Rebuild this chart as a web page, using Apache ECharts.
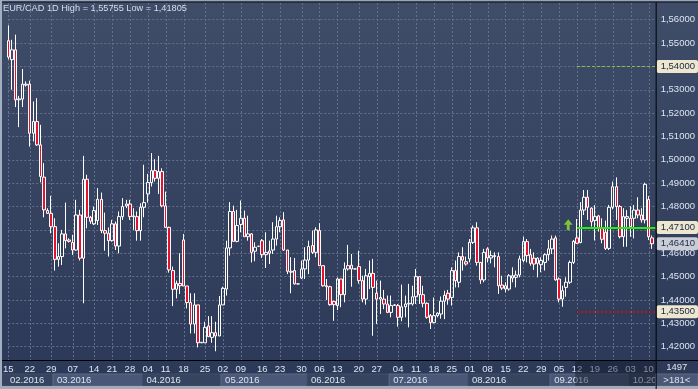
<!DOCTYPE html>
<html><head><meta charset="utf-8">
<script src="https://cdn.jsdelivr.net/npm/echarts@6/dist/echarts.min.js"></script>
<style>html,body{margin:0;padding:0;background:#2c3857;overflow:hidden}#c{width:698px;height:389px}</style>
</head><body><div id="c"></div>
<script>
const opens = [
1.5510,1.5429,1.5471,1.5257,1.5260,1.5324,1.5324,1.5114,1.5164,1.5064,
1.4926,1.4783,1.4771,1.4714,1.4574,1.4586,1.4683,1.4657,1.4646,1.4614,
1.4764,1.4579,1.4917,1.4754,1.4726,1.4740,1.4831,1.4697,1.4686,1.4654,
1.4726,1.4631,1.4757,1.4803,1.4811,1.4757,1.4757,1.4697,1.4797,1.4854,
1.4903,1.4954,1.4921,1.4950,1.4803,1.4711,1.4526,1.4446,1.4471,1.4657,
1.4460,1.4389,1.4297,1.4379,1.4217,1.4217,1.4289,1.4240,1.4260,1.4246,
1.4379,1.4447,1.4623,1.4779,1.4651,1.4723,1.4750,1.4671,1.4683,1.4609,
1.4630,1.4654,1.4594,1.4610,1.4614,1.4661,1.4714,1.4743,1.4614,1.4523,
1.4526,1.4469,1.4494,1.4533,1.4571,1.4633,1.4604,1.4697,1.4547,1.4461,
1.4457,1.4394,1.4376,1.4490,1.4423,1.4533,1.4549,1.4533,1.4543,1.4483,
1.4404,1.4500,1.4514,1.4429,1.4404,1.4404,1.4383,1.4347,1.4377,1.4376,
1.4326,1.4371,1.4383,1.4383,1.4414,1.4500,1.4423,1.4386,1.4333,1.4304,
1.4333,1.4340,1.4395,1.4429,1.4411,1.4526,1.4476,1.4586,1.4564,1.4576,
1.4647,1.4709,1.4561,1.4486,1.4619,1.4580,1.4590,1.4586,1.4464,1.4447,
1.4447,1.4494,1.4497,1.4507,1.4569,1.4650,1.4594,1.4579,1.4557,1.4551,
1.4561,1.4594,1.4619,1.4666,1.4490,1.4404,1.4454,1.4476,1.4561,1.4666,
1.4646,1.4785,1.4840,1.4793,1.4740,1.4760,1.4707,1.4690,1.4621,1.4797,
1.4885,1.4800,1.4671,1.4750,1.4750,1.4750,1.4785,1.4764,1.4743,1.4830,
1.4666];
const closes = [
1.5440,1.5471,1.5257,1.5261,1.5324,1.5320,1.5114,1.5164,1.5064,1.4929,
1.4786,1.4771,1.4714,1.4574,1.4586,1.4683,1.4654,1.4651,1.4614,1.4764,
1.4579,1.4917,1.4754,1.4737,1.4783,1.4831,1.4697,1.4686,1.4654,1.4726,
1.4631,1.4757,1.4800,1.4811,1.4757,1.4760,1.4697,1.4797,1.4817,1.4903,
1.4954,1.4921,1.4950,1.4803,1.4711,1.4529,1.4446,1.4471,1.4461,1.4460,
1.4389,1.4297,1.4379,1.4217,1.4219,1.4283,1.4243,1.4260,1.4246,1.4379,
1.4450,1.4623,1.4779,1.4651,1.4719,1.4750,1.4671,1.4683,1.4604,1.4626,
1.4630,1.4594,1.4604,1.4600,1.4661,1.4714,1.4740,1.4614,1.4523,1.4519,
1.4469,1.4469,1.4533,1.4571,1.4629,1.4604,1.4700,1.4547,1.4461,1.4457,
1.4380,1.4380,1.4490,1.4423,1.4533,1.4547,1.4533,1.4533,1.4483,1.4404,
1.4504,1.4514,1.4454,1.4404,1.4411,1.4383,1.4347,1.4376,1.4379,1.4326,
1.4371,1.4383,1.4386,1.4414,1.4500,1.4423,1.4386,1.4326,1.4304,1.4333,
1.4344,1.4395,1.4420,1.4404,1.4526,1.4483,1.4586,1.4571,1.4554,1.4647,
1.4709,1.4561,1.4486,1.4604,1.4580,1.4590,1.4586,1.4461,1.4451,1.4461,
1.4504,1.4504,1.4507,1.4576,1.4650,1.4590,1.4557,1.4554,1.4579,1.4569,
1.4594,1.4619,1.4661,1.4486,1.4404,1.4440,1.4476,1.4561,1.4651,1.4643,
1.4785,1.4840,1.4797,1.4735,1.4757,1.4707,1.4660,1.4621,1.4797,1.4885,
1.4800,1.4671,1.4757,1.4757,1.4714,1.4785,1.4764,1.4743,1.4895,1.4671,
1.4641];
const lows = [
1.5430,1.5300,1.5226,1.5140,1.5226,1.5314,1.5057,1.5079,1.5060,1.4904,
1.4754,1.4769,1.4686,1.4526,1.4543,1.4550,1.4621,1.4646,1.4593,1.4611,
1.4569,1.4386,1.4707,1.4726,1.4721,1.4721,1.4686,1.4611,1.4586,1.4650,
1.4614,1.4600,1.4743,1.4793,1.4743,1.4700,1.4654,1.4654,1.4754,1.4817,
1.4886,1.4907,1.4854,1.4797,1.4711,1.4517,1.4374,1.4407,1.4426,1.4460,
1.4364,1.4257,1.4257,1.4197,1.4215,1.4217,1.4243,1.4217,1.41805,1.4246,
1.4379,1.4419,1.4590,1.4651,1.4647,1.4690,1.4671,1.4654,1.4561,1.4566,
1.4628,1.4580,1.4537,1.4554,1.4597,1.4633,1.4690,1.4611,1.4511,1.4429,
1.4466,1.4468,1.4490,1.4490,1.4511,1.4597,1.4583,1.4547,1.4457,1.4400,
1.4376,1.4311,1.4357,1.4369,1.4390,1.4526,1.4457,1.4532,1.4470,1.4390,
1.4380,1.4447,1.4247,1.4297,1.4340,1.4361,1.4344,1.4326,1.4375,1.4286,
1.4309,1.4326,1.4283,1.4376,1.4383,1.4383,1.4369,1.4320,1.4276,1.4300,
1.4326,1.4320,1.4318,1.4380,1.4376,1.4454,1.4454,1.4526,1.4547,1.4561,
1.4640,1.4547,1.4469,1.4476,1.4561,1.4557,1.4540,1.4426,1.4443,1.4433,
1.4440,1.4476,1.4454,1.4497,1.4561,1.4561,1.4547,1.4529,1.4497,1.4519,
1.4526,1.4569,1.4597,1.4483,1.4390,1.4371,1.4414,1.4469,1.4554,1.4640,
1.4643,1.4764,1.4743,1.4714,1.4655,1.4693,1.4643,1.4614,1.4614,1.4788,
1.4743,1.4664,1.4628,1.4628,1.4671,1.4664,1.4750,1.4731,1.4728,1.4657,
1.4619];
const highs = [
1.55755,1.5514,1.5536,1.5274,1.5389,1.5336,1.5339,1.5250,1.5264,1.5150,
1.4986,1.4793,1.4846,1.4750,1.4643,1.4700,1.4817,1.4664,1.4679,1.4829,
1.4786,1.5017,1.4936,1.4760,1.4800,1.4879,1.4860,1.4774,1.4711,1.4743,
1.4736,1.4779,1.4836,1.4829,1.4829,1.4793,1.4779,1.4814,1.4979,1.4940,
1.5029,1.5003,1.5017,1.4964,1.4864,1.4714,1.4543,1.4483,1.4600,1.4683,
1.4460,1.4429,1.4429,1.4379,1.4220,1.4307,1.4331,1.4331,1.4307,1.4417,
1.4457,1.4654,1.4819,1.4804,1.4786,1.4826,1.4783,1.4761,1.4686,1.4647,
1.4632,1.4661,1.4690,1.4654,1.4733,1.4761,1.4754,1.4776,1.4614,1.4583,
1.4580,1.4470,1.4569,1.4626,1.4654,1.4697,1.4711,1.4729,1.4547,1.4490,
1.4461,1.4397,1.4497,1.4490,1.4561,1.4636,1.4597,1.4534,1.4611,1.4504,
1.4533,1.4569,1.4576,1.4483,1.4483,1.4443,1.4419,1.4419,1.4382,1.4383,
1.4466,1.4419,1.4469,1.4461,1.4533,1.4500,1.4461,1.4390,1.4340,1.4411,
1.4347,1.4415,1.4440,1.4443,1.4540,1.4569,1.4604,1.4626,1.4586,1.4661,
1.4719,1.4733,1.4561,1.4619,1.4626,1.4611,1.4604,1.4604,1.4504,1.4476,
1.4511,1.4540,1.4526,1.4590,1.4671,1.4661,1.4619,1.4604,1.4583,1.4583,
1.4600,1.4657,1.4676,1.4676,1.4497,1.4461,1.4497,1.4569,1.4657,1.4747,
1.4819,1.4871,1.4871,1.4797,1.4806,1.4764,1.4750,1.4740,1.4807,1.4907,
1.4925,1.4807,1.4793,1.4785,1.4802,1.4807,1.4840,1.4793,1.4902,1.4845,
1.4676];

// x categories: one per bar, plus one empty slot reaching the right edge
const barCount = opens.length;            // 181
const categories = Array.from({length: barCount + 1}, (_, i) => String(i));
// weekly day labels [bar index, text]
const dayTicks = [[0,'15'],[6,'22'],[12,'29'],[18,'07'],[24,'14'],[29,'21'],[34,'28'],[39,'04'],[44,'11'],[49,'18'],
 [55,'25'],[60,'02'],[65,'09'],[71,'16'],[76,'23'],[82,'30'],[87,'06'],[92,'13'],[98,'20'],[103,'27'],
 [109,'04'],[114,'11'],[119,'18'],[124,'25'],[129,'01'],[134,'08'],[139,'15'],[144,'22'],[149,'29'],[154,'05'],
 [159,'12'],[164,'19'],[169,'26'],[174,'03'],[179,'10']];
// month sections [first bar index, text]
const monthStarts = [[0,'02.2016'],[13,'03.2016'],[38,'04.2016'],[60,'05.2016'],[84,'06.2016'],[107,'07.2016'],[129,'08.2016'],[152,'09.2016'],[174,'10.2016']];
const priceTicks = [1.42,1.43,1.44,1.45,1.46,1.47,1.48,1.49,1.50,1.51,1.52,1.53,1.54,1.55,1.56];
const priceMin = 1.41432, priceMax = 1.56715;
const levelUpper = 1.54, levelMid = 1.471, levelLower = 1.435, lastPrice = 1.4641;
const levelStart = 159, arrowBar = 156, arrowPrice = 1.4722;
const titleText = 'EUR/CAD 1D High = 1,55755 Low = 1,41805';
const infoTop = '1497', infoBottom = '>181<';

const FONT = "'Liberation Sans',Arial,sans-serif";
const FS = 9.5;
const LBL = '#dde5f2';
const GRID = '#62708c';
const fmt = v => Number(v).toFixed(5).replace('.', ',');
const tickMap = new Map(dayTicks);
const tickIdx = dayTicks.map(d => d[0]);
const candles = opens.map((o, i) => [o, closes[i], lows[i], highs[i]]);

const tagLabel = (bg, v) => ({show:true, position:'end', distance:1, formatter: () => fmt(v),
  backgroundColor:bg, color:'#1a2742', fontFamily:FONT, fontSize:FS, padding:[2,3,1,4], borderRadius:2});

const chart = echarts.init(document.getElementById('c'), null, {renderer:'canvas'});
const option = {
  animation:false,
  backgroundColor:{type:'linear',x:0,y:0,x2:0,y2:1,colorStops:[{offset:0,color:'#3f4d69'},{offset:1,color:'#2c3857'}]},
  textStyle:{fontFamily:FONT},
  title:{text:titleText, left:3, top:4, padding:0, textStyle:{color:'#d7dfec', fontSize:9.2, fontWeight:'normal', fontFamily:FONT}},
  grid:{left:3, right:42, top:3, bottom:29, containLabel:false},
  xAxis:{type:'category', data:categories, boundaryGap:false,
    axisLine:{show:false}, axisTick:{show:false, customValues:tickIdx},
    axisLabel:{customValues:tickIdx, formatter:(v)=>tickMap.get(Number(v))||'', color:LBL, fontSize:FS, margin:4, fontFamily:FONT},
    splitLine:{show:false}},
  yAxis:{type:'value', position:'right', min:priceMin, max:priceMax, scale:true,
    axisLine:{show:false}, axisTick:{show:false, customValues:priceTicks},
    axisLabel:{customValues:priceTicks, formatter:fmt, color:LBL, fontSize:FS, margin:5, fontFamily:FONT},
    splitLine:{show:true, lineStyle:{color:GRID, type:[2,2], width:1}}},
  series:[{
    type:'candlestick', data:candles, barWidth:3, clip:true, z:3,
    itemStyle:{color:'rgba(0,0,0,0)', color0:'#e3132f', borderColor:'#ffffff', borderColor0:'#ffffff', borderWidth:1},
    markLine:{silent:true, symbol:['none','none'], animation:false,
      data:[
        [{coord:[levelStart, levelUpper], lineStyle:{color:'#86c03c', type:[3,2], width:1}, label:tagLabel('#ede7cf', levelUpper)}, {coord:[barCount, levelUpper]}],
        [{coord:[levelStart, levelLower], lineStyle:{color:'#b0181e', type:[2,2], width:2}, label:tagLabel('#ede7cf', levelLower)}, {coord:[barCount, levelLower]}],
        [{coord:[barCount - 1, lastPrice], lineStyle:{color:'rgba(0,0,0,0)', width:0}, label:tagLabel('#c9cdd6', lastPrice)}, {coord:[barCount, lastPrice]}],
        [{coord:[levelStart, levelMid], lineStyle:{color:'#22ee11', type:'solid', width:2}, label:tagLabel('#ede7cf', levelMid)}, {coord:[barCount, levelMid]}]
      ]},
    markPoint:{silent:true, animation:false, data:[{coord:[arrowBar, arrowPrice],
      symbol:'path://M5,0 L10,6 L6.6,6 L6.6,12 L3.4,12 L3.4,6 L0,6 Z', symbolSize:[9,11], symbolOffset:[2,0],
      itemStyle:{color:'#7cc23c'}, label:{show:false}}]}
  }]
};
chart.setOption(option);

// decorations, placed through the chart's own scales
const px0 = chart.convertToPixel({xAxisIndex:0}, 0);
const pxStep = chart.convertToPixel({xAxisIndex:0}, 1) - px0;
const xb = b => px0 + b * pxStep;
const plotRight = chart.convertToPixel({xAxisIndex:0}, barCount);
const plotBottom = chart.convertToPixel({yAxisIndex:0}, priceMin);
const plotTop = chart.convertToPixel({yAxisIndex:0}, priceMax);
const W = 698, H = 389;
const row1 = plotBottom + 14, row2 = H - 3;
const g = [];
// vertical weekly grid lines at the labelled days
tickIdx.forEach(i => {
  const x = Math.round(chart.convertToPixel({xAxisIndex:0}, i)) + 0.5;
  g.push({type:'line', silent:true, shape:{x1:x, y1:plotTop, x2:x, y2:plotBottom}, style:{stroke:GRID, lineWidth:1, lineDash:[2,2]}, z:0});
});
monthStarts.forEach((m, k) => {
  const xs = k === 0 ? 0 : xb(m[0] - 0.5);
  const xe = k < monthStarts.length - 1 ? xb(monthStarts[k+1][0] - 0.5) : plotRight;
  const light = k % 2 === 1;
  g.push({type:'rect', shape:{x:xs, y:row1, width:xe-xs, height:row2-row1},
    style:{fill: light ? '#4a5776' : '#37445f', stroke: light ? '#5e6b88' : '#414e6a', lineWidth:1}, z:2});
  g.push({type:'text', x:Math.max(xs + 4, 10), y:(row1+row2)/2 + 0.5,
    style:{text:m[1], fill:LBL, font:FS + 'px ' + FONT, textVerticalAlign:'middle'}, z:3});
});
// dim overlay on the forward part of the date band
g.push({type:'rect', shape:{x:xb(levelStart - 0.5), y:plotBottom, width:plotRight - xb(levelStart - 0.5), height:row2-plotBottom}, style:{fill:'rgba(18,25,42,0.45)'}, z:4});
// info box bottom-right
g.push({type:'rect', shape:{x:plotRight, y:plotBottom, width:W-plotRight, height:row1-plotBottom}, style:{fill:'#2d3956'}, z:7});
g.push({type:'rect', shape:{x:plotRight, y:row1, width:W-plotRight, height:row2-row1}, style:{fill:'#4a5776', stroke:'#5e6b88'}, z:7});
g.push({type:'text', x:(plotRight+W)/2, y:(plotBottom+row1)/2+0.5, style:{text:infoTop, fill:LBL, font:FS + 'px ' + FONT, textAlign:'center', textVerticalAlign:'middle'}, z:8});
g.push({type:'text', x:(plotRight+W)/2, y:(row1+row2)/2+0.5, style:{text:infoBottom, fill:LBL, font:FS + 'px ' + FONT, textAlign:'center', textVerticalAlign:'middle'}, z:8});
// bottom light strip
g.push({type:'rect', shape:{x:0, y:row2, width:W, height:H-row2}, style:{fill:'#a2abba'}, z:9});
// frame lines
g.push({type:'line', shape:{x1:0, y1:plotBottom+0.5, x2:W, y2:plotBottom+0.5}, style:{stroke:'#000', lineWidth:1}, z:9});
g.push({type:'line', shape:{x1:plotRight+0.5, y1:2, x2:plotRight+0.5, y2:H}, style:{stroke:'#000', lineWidth:1}, z:9});
g.push({type:'rect', shape:{x:0, y:0, width:W, height:1.5}, style:{fill:'#9aa5b8'}, z:9});
g.push({type:'line', shape:{x1:0, y1:2, x2:W, y2:2}, style:{stroke:'#0b0f18', lineWidth:1}, z:9});
g.push({type:'rect', shape:{x:0, y:0, width:2, height:H}, style:{fill:'#a3aec0'}, z:9});
chart.setOption({graphic:g});
</script>
</body></html>
